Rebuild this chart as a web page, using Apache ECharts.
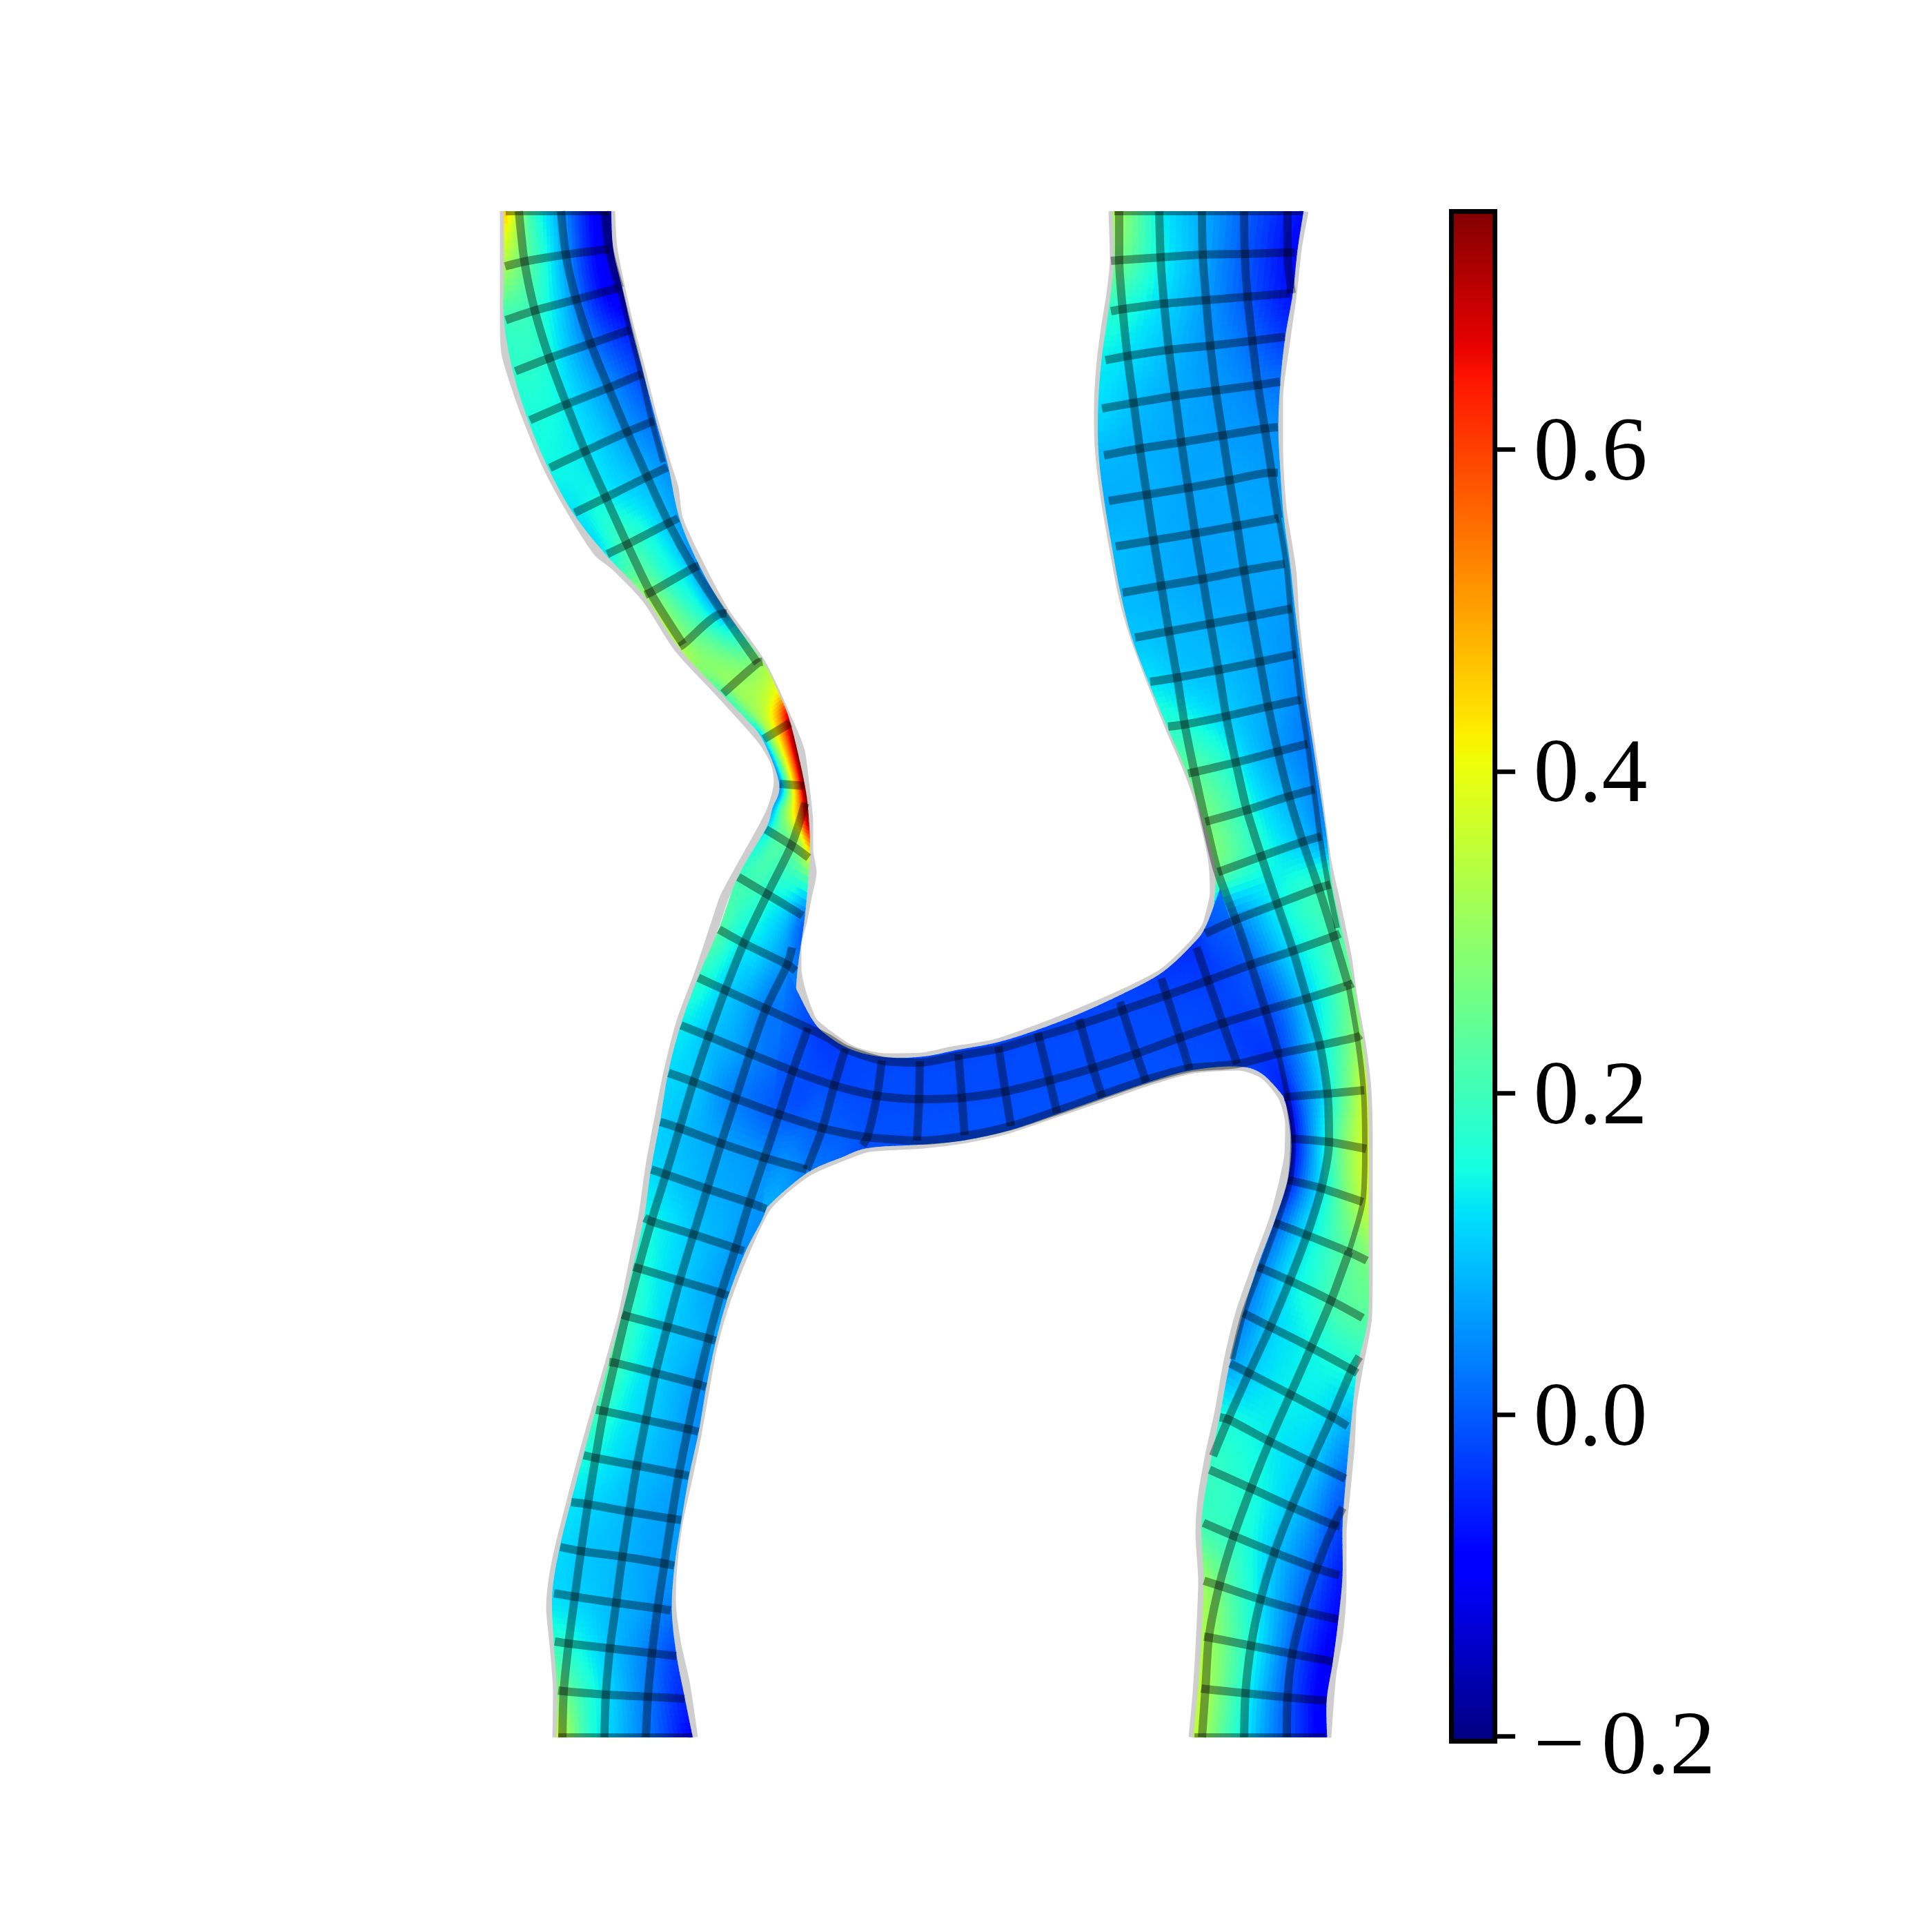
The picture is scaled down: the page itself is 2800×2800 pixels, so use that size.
<!DOCTYPE html>
<html>
<head>
<meta charset="utf-8">
<style>html,body{margin:0;padding:0;background:#fff}#c{width:2800px;height:2800px}</style>
<script src="https://cdn.jsdelivr.net/npm/echarts@6/dist/echarts.min.js"></script>
</head>
<body>
<div id="c"></div>
<script>
// Colour scale
const colorMin = -0.203, colorMax = 0.748;
const tickValues = [-0.2, 0, 0.2, 0.4, 0.6];

// Left vessel: cross-sections [xL,yL,xR,yR] and field values across each section
const leftEdges = [
[731,298,885,298],[731,386,888,361],[731,464,901,417],[744,538,915,478],[766,609,932,542],
[795,678,950,610],[831,743,968,677],[878,803,984,751],[935,864,1013,820],[985,939,1053,889],
[1047,1006,1105,959],[1080,1040,1128,1005],[1106,1072,1145,1048],[1130,1136,1166,1139],[1120,1172,1172,1193],[1110,1202,1173,1243],
[1070,1271,1166,1327],[1042,1347,1155,1407],[1012,1417,1150,1478],[987,1486,1140,1553],[969,1555,1129,1615],
[957,1626,1120,1690],[944,1695,1110,1752],[934,1765,1080,1813],[918,1836,1055,1878],[902,1905,1037,1943],
[883,1974,1023,2010],[864,2043,1012,2075],[846,2109,998,2139],[828,2177,987,2203],[812,2242,977,2269],
[801,2309,973,2334],[803,2379,980,2400],[808,2450,992,2462],[807,2526,1005,2526]];
const leftValues = [
[.48,.2,.08,-.05,-.15],[.32,.22,.1,-.04,-.13],[.2,.19,.1,-.04,-.12],[.18,.17,.09,0,-.06],[.16,.15,.1,.04,-.02],
[.15,.14,.11,.06,.02],[.13,.15,.12,.09,.05],[.14,.2,.17,.12,.07],[.3,.24,.17,.13,.05],[.33,.27,.22,.15,.08],
[.22,.3,.3,.29,.3],[.2,.3,.34,.38,.42],[.1,.3,.42,.55,.7],[.05,.2,.38,.55,.74],[.08,.24,.36,.5,.7],[.13,.22,.24,.28,.38],
[.2,.2,.16,.12,.03],[.22,.15,.12,.07,.03],[.18,.12,.08,.03,.03],[.14,.1,.07,.03,.01],[.12,.1,.05,.02,0],
[.11,.09,.07,.06,.05],[.12,.1,.08,.07,.05],[.15,.13,.1,.08,.05],[.18,.14,.11,.08,.06],[.2,.15,.11,.09,.07],
[.22,.15,.11,.08,.05],[.2,.14,.11,.08,.05],[.16,.13,.1,.08,.06],[.13,.11,.09,.07,.06],[.12,.1,.09,.07,.06],
[.12,.11,.09,.07,.03],[.18,.14,.09,.04,-.02],[.27,.17,.09,.02,-.05],[.38,.17,.08,0,-.09]];

// Right vessel
const rightEdges = [
[1613,298,1890,298],[1615,377,1880,361],[1607,451,1873,425],[1597,522,1862,488],[1592,592,1855,553],
[1593,660,1852,619],[1601,726,1855,685],[1612,792,1860,751],[1624,857,1869,817],[1641,924,1876,882],
[1665,988,1884,948],[1692,1053,1892,1014],[1721,1121,1902,1078],[1745,1191,1912,1144],[1762,1264,1922,1212],
[1760,1345,1930,1282],[1785,1405,1945,1353],[1810,1470,1961,1425],[1830,1530,1973,1500],[1861,1590,1981,1578],
[1872,1650,1983,1665],[1867,1710,1983,1742],[1847,1772,1983,1827],[1823,1836,1982,1910],[1802,1903,1967,1980],
[1783,1976,1957,2067],[1768,2054,1950,2143],[1753,2130,1945,2212],[1742,2207,1945,2283],[1745,2291,1939,2347],
[1742,2372,1931,2408],[1737,2447,1922,2465],[1729,2526,1923,2526]];
const rightValues = [
[.33,.14,.07,-.01,-.07],[.27,.15,.07,-.01,-.08],[.18,.13,.07,0,-.07],[.14,.11,.07,.03,-.03],[.12,.09,.07,.05,.02],
[.09,.08,.07,.06,.05],[.08,.08,.07,.07,.06],[.09,.08,.07,.07,.07],[.09,.08,.07,.07,.07],[.1,.09,.08,.07,.06],
[.13,.1,.09,.07,.05],[.18,.14,.1,.07,.04],[.24,.19,.11,.06,.03],[.27,.21,.13,.08,.04],[.25,.2,.15,.11,.06],
[0,.06,.13,.18,.2],[-.02,.03,.11,.17,.22],[-.03,0,.09,.17,.26],[-.05,0,.1,.2,.3],[-.08,.03,.13,.25,.37],
[-.08,.05,.18,.3,.38],[-.06,.06,.17,.28,.36],[0,.1,.17,.23,.27],[.03,.12,.17,.22,.23],[.04,.11,.14,.16,.17],
[.07,.12,.14,.13,.08],[.16,.15,.13,.1,.02],[.19,.17,.13,.07,-.02],[.2,.18,.11,.03,-.06],[.3,.2,.1,0,-.08],
[.33,.22,.1,-.02,-.1],[.35,.22,.09,-.02,-.1],[.35,.21,.08,-.02,-.1]];

// Connecting bridge
const bridgeEdges = [
[1142,1410,1104,1757],[1176,1477,1130,1731],[1201,1503,1173,1697],[1237,1523,1219,1677],[1284,1533,1259,1663],
[1337,1532,1337,1658],[1389,1522,1398,1652],[1447,1511,1465,1637],[1504,1493,1532,1614],[1564,1470,1597,1591],
[1623,1443,1661,1569],[1683,1411,1724,1551],[1728,1370,1793,1545],[1748,1343,1831,1557],[1768,1290,1870,1600]];
const bridgeValues = [
[.03,.015,0,.03,.08],[-.02,-.01,-.01,.04,.07],[-.03,-.02,0,.01,.03],[-.02,-.02,-.01,0,.01],[-.02,-.015,-.015,-.01,-.01],
[-.02,-.015,-.015,-.01,-.01],[-.02,-.015,-.015,-.01,-.01],[-.02,-.015,-.015,-.01,-.01],[-.02,-.015,-.015,-.01,-.01],[-.02,-.015,-.015,-.01,-.01],
[-.02,-.015,-.015,-.01,-.01],[-.03,-.02,-.015,-.015,-.01],[-.04,-.03,-.02,-.02,-.02],[-.01,-.02,-.02,-.03,-.03],[.02,0,-.01,-.03,-.06]];

// Boundary curves
const outlineLeftOuter = [[731,306],[731,397],[731,469],[733,511],[743,547],[763,604],[793,676],[830,744],[867,801],[890,819],[937,868],[983,939],[1043,1004],[1103,1071],[1123,1104],[1128,1132],[1120,1168],[1107,1196],[1067,1268],[1050,1300],[1040,1329],[1012,1413],[987,1480],[969,1550],[955,1620],[942,1690],[932,1760],[917,1834],[903,1903],[883,1976],[863,2045],[845,2109],[827,2178],[812,2237],[802,2286],[798,2330],[803,2384],[808,2453],[807,2518]];
const outlineInnerTop = [[885,306],[888,358],[900,419],[913,476],[930,540],[947,608],[967,676],[977,708],[983,751],[1010,811],[1050,886],[1103,961],[1143,1046],[1160,1089],[1167,1143],[1172,1193],[1172,1232],[1177,1264],[1170,1300],[1163,1336],[1155,1370],[1155,1403],[1176,1477],[1201,1500],[1237,1523],[1284,1533],[1337,1532],[1380,1523],[1440,1513],[1499,1493],[1558,1470],[1621,1443],[1685,1410],[1728,1370],[1748,1343],[1755,1319],[1760,1294],[1757,1244],[1740,1169],[1720,1112],[1697,1059],[1667,984],[1643,919],[1628,866],[1612,783],[1600,711],[1593,647],[1592,597],[1595,533],[1602,476],[1610,426],[1615,376],[1613,306]];
const outlineInnerBottom = [[1005,2518],[993,2438],[980,2379],[973,2320],[975,2271],[983,2207],[997,2143],[1010,2080],[1023,2006],[1033,1952],[1053,1883],[1080,1814],[1109,1753],[1130,1730],[1173,1697],[1219,1677],[1259,1663],[1337,1658],[1400,1650],[1459,1637],[1530,1613],[1598,1590],[1661,1568],[1724,1550],[1795,1545],[1831,1557],[1859,1590],[1869,1630],[1867,1680],[1847,1763],[1823,1829],[1797,1903],[1780,1972],[1767,2045],[1753,2109],[1742,2173],[1739,2222],[1743,2291],[1740,2369],[1735,2453],[1729,2518]];
const outlineRightOuter = [[1890,306],[1880,361],[1873,426],[1862,504],[1853,576],[1853,647],[1858,736],[1872,826],[1877,901],[1887,991],[1897,1062],[1910,1151],[1923,1248],[1937,1312],[1953,1390],[1961,1447],[1973,1513],[1981,1580],[1983,1663],[1983,1827],[1982,1908],[1970,1976],[1960,2035],[1957,2094],[1950,2168],[1945,2222],[1945,2296],[1940,2369],[1930,2428],[1923,2518]];

// Mesh lines running across the vessels
const crossLines = [
[[732,386],[760,379],[820,369],[883,361]],
[[733,464],[775,450],[835,434],[898,417]],
[[747,538],[796,519],[856,498],[913,478]],
[[768,609],[821,586],[882,562],[930,542]],
[[797,678],[848,654],[909,626],[948,610]],
[[833,743],[878,721],[938,691],[967,677]],
[[880,803],[909,789],[969,758],[983,751]],
[[935,862],[944,858],[1005,823],[1013,820]],
[[985,937],[990,934],[1048,889],[1053,889]],
[[1048,1005],[1098,961],[1105,959]],
[[1107,1071],[1145,1048]],
[[1130,1136],[1165,1139]],
[[1110,1202],[1147,1225],[1172,1243]],
[[1070,1271],[1112,1296],[1163,1327]],
[[1042,1347],[1078,1367],[1141,1398],[1153,1407]],
[[1012,1417],[1051,1435],[1110,1462],[1171,1490],[1201,1505],[1225,1520],[1278,1537],[1333,1540],[1389,1530],[1447,1520],[1504,1503],[1565,1485],[1627,1464],[1689,1443],[1751,1421],[1813,1398],[1874,1378],[1933,1357],[1942,1353]],
[[987,1486],[1027,1502],[1087,1527],[1149,1552],[1209,1573],[1271,1588],[1332,1593],[1394,1591],[1457,1582],[1521,1566],[1584,1548],[1647,1527],[1710,1504],[1772,1483],[1834,1464],[1894,1447],[1954,1428],[1961,1425]],
[[969,1555],[1005,1568],[1066,1592],[1129,1615],[1192,1635],[1257,1648],[1337,1653],[1400,1646],[1465,1632],[1532,1610],[1597,1587],[1661,1565],[1724,1548],[1793,1542],[1853,1527],[1913,1515],[1967,1503],[1972,1500]],
[[957,1626],[985,1635],[1045,1657],[1108,1678],[1169,1695]],
[[944,1695],[965,1702],[1025,1723],[1086,1743],[1110,1752]],
[[934,1765],[944,1770],[1005,1789],[1066,1809],[1078,1813]],
[[918,1836],[925,1838],[985,1856],[1045,1874],[1055,1878]],
[[902,1905],[907,1907],[967,1923],[1027,1940],[1037,1943]],
[[883,1974],[891,1975],[950,1990],[1011,2006],[1023,2010]],
[[864,2043],[875,2045],[936,2058],[997,2071],[1012,2075]],
[[846,2109],[863,2113],[923,2124],[984,2136],[998,2139]],
[[828,2177],[852,2180],[912,2191],[973,2201],[987,2203]],
[[812,2242],[842,2248],[902,2256],[963,2266],[977,2269]],
[[803,2309],[833,2314],[893,2323],[953,2331],[972,2334]],
[[804,2379],[824,2382],[884,2389],[945,2396],[980,2400]],
[[809,2450],[817,2451],[878,2456],[939,2459],[992,2462]],
[[1610,378],[1622,377],[1682,373],[1743,369],[1804,368],[1867,366],[1877,366]],
[[1610,451],[1627,448],[1687,440],[1748,435],[1808,430],[1870,425]],
[[1602,522],[1634,516],[1694,507],[1754,501],[1815,494],[1862,488]],
[[1597,592],[1643,584],[1703,574],[1762,566],[1823,558],[1855,553]],
[[1600,660],[1652,650],[1712,641],[1772,631],[1833,621],[1852,619]],
[[1607,726],[1662,717],[1722,707],[1782,696],[1843,685],[1852,685]],
[[1617,792],[1672,783],[1732,773],[1793,762],[1853,751]],
[[1627,859],[1683,849],[1743,839],[1803,827],[1862,817]],
[[1645,924],[1694,915],[1754,904],[1814,893],[1872,882]],
[[1667,988],[1706,982],[1766,971],[1826,959],[1878,948]],
[[1693,1053],[1717,1050],[1777,1038],[1838,1024],[1885,1014]],
[[1722,1121],[1731,1119],[1791,1105],[1852,1089],[1895,1078]],
[[1747,1191],[1807,1174],[1868,1154],[1905,1144]],
[[1765,1264],[1828,1241],[1888,1220],[1915,1212]],
[[1747,1353],[1791,1333],[1851,1310],[1911,1287],[1928,1282]],
[[1861,1590],[1924,1585],[1977,1580]],
[[1872,1650],[1926,1655],[1980,1665]],
[[1867,1710],[1915,1722],[1975,1742]],
[[1847,1772],[1894,1790],[1956,1815],[1981,1827]],
[[1823,1836],[1869,1856],[1929,1885],[1975,1910]],
[[1802,1903],[1841,1923],[1900,1953],[1959,1985],[1967,1990]],
[[1783,1976],[1810,1990],[1870,2021],[1930,2053],[1953,2067]],
[[1768,2054],[1780,2057],[1840,2089],[1900,2119],[1950,2143]],
[[1753,2130],[1813,2157],[1872,2184],[1933,2210],[1942,2212]],
[[1744,2207],[1788,2226],[1847,2250],[1908,2273],[1941,2283]],
[[1745,2291],[1767,2298],[1827,2318],[1888,2335],[1939,2347]],
[[1745,2372],[1752,2373],[1813,2385],[1873,2397],[1931,2408]],
[[1741,2447],[1747,2448],[1805,2454],[1866,2460],[1922,2465]]];

// Mesh lines running along the vessels
const alongLines = [
[[752,306],[760,379],[775,450],[796,519],[821,586],[848,654],[878,721],[909,789],[944,861],[990,934]],
[[813,306],[820,369],[835,434],[856,498],[882,562],[909,626],[938,691],[969,758],[1005,823],[1048,889],[1098,961]],
[[877,306],[883,361],[898,417]],
[[1167,1164],[1147,1225],[1112,1296],[1078,1367],[1051,1435],[1027,1502],[1005,1568],[985,1635],[965,1702],[944,1770],[925,1838],[907,1907],[891,1975],[875,2045],[863,2113],[852,2180],[842,2248],[833,2314],[824,2382],[817,2451],[815,2518]],
[[1148,1373],[1141,1398],[1110,1462],[1087,1527],[1066,1592],[1045,1657],[1025,1723],[1005,1789],[985,1856],[967,1923],[950,1990],[936,2058],[923,2124],[912,2191],[902,2256],[893,2323],[884,2389],[878,2456],[876,2518]],
[[1171,1490],[1149,1552],[1129,1615],[1108,1678],[1086,1743],[1066,1809],[1045,1874],[1027,1940],[1011,2006],[997,2071],[984,2136],[973,2201],[963,2266],[953,2331],[945,2396],[939,2459],[936,2518]],
[[1225,1520],[1209,1573],[1192,1635],[1169,1695]],
[[1278,1537],[1271,1588],[1257,1648],[1250,1660]],
[[1333,1538],[1332,1593],[1329,1653]],
[[1389,1528],[1394,1591],[1398,1645]],
[[1447,1517],[1457,1582],[1465,1632]],
[[1504,1497],[1521,1566],[1532,1613]],
[[1564,1477],[1584,1548],[1597,1590]],
[[1623,1452],[1647,1527],[1661,1568]],
[[1683,1418],[1710,1504],[1724,1550]],
[[1734,1373],[1772,1483],[1793,1542]],
[[1622,306],[1622,377],[1627,448],[1634,516],[1643,584],[1652,650],[1662,717],[1672,783],[1683,849],[1694,915],[1706,982],[1717,1050],[1731,1119],[1747,1191],[1765,1264],[1791,1333],[1813,1398],[1834,1464],[1853,1527]],
[[1680,306],[1682,373],[1687,440],[1694,507],[1703,574],[1712,641],[1722,707],[1732,773],[1743,838],[1754,904],[1766,971],[1777,1038],[1791,1105],[1807,1174],[1828,1241],[1851,1310],[1874,1378],[1894,1447],[1913,1515],[1924,1585],[1926,1655],[1915,1722],[1894,1790],[1869,1856],[1841,1923],[1810,1990],[1780,2057],[1758,2110]],
[[1742,306],[1743,369],[1748,435],[1754,501],[1762,566],[1772,631],[1782,696],[1793,762],[1803,827],[1814,893],[1826,959],[1838,1024],[1852,1089],[1868,1154],[1888,1220],[1911,1287],[1933,1357],[1954,1428]],
[[1955,1814],[1929,1885],[1900,1953],[1870,2021],[1840,2089],[1813,2157],[1788,2226],[1767,2298],[1752,2373],[1747,2448],[1742,2518]],
[[1803,306],[1804,368],[1808,430],[1815,494],[1823,558],[1833,621],[1843,685],[1853,751]],
[[1866,306],[1866,366],[1872,425]],
[[1803,2518],[1805,2454],[1813,2385],[1827,2318],[1847,2250],[1872,2184],[1900,2119],[1930,2053],[1959,1985],[1970,1966]],
[[1865,2518],[1866,2460],[1873,2397],[1888,2335],[1908,2273],[1933,2210],[1946,2185]]];

// Parts of mesh lines that run along the boundary and are cut by it
const edgeLines = [
[[898,417],[911,470],[926,530],[942,600],[961,670]],
[[1853,1527],[1866,1590],[1874,1650],[1870,1710],[1851,1772],[1828,1836],[1803,1903],[1786,1970]],
[[1954,1428],[1967,1503],[1976,1580],[1978,1665],[1975,1742],[1955,1814]],
[[1853,751],[1864,817],[1870,882],[1877,948],[1885,1014],[1895,1078],[1904,1144],[1913,1212],[1925,1282],[1938,1345]]];

// Mesh lines cut by the top and bottom of the plot
const capLines = [
[[733,309],[883,309]],[[1615,309],[1888,309]],
[[809,2515],[1003,2515]],[[1731,2515],[1921,2515]]];

// ---- rendering helpers ----
function lerp(a,b,t){return a+(b-a)*t;}
function jetChannel(pts,t){
  for(let i=1;i<pts.length;i++){ if(t<=pts[i][0]) return lerp(pts[i-1][1],pts[i][1],(t-pts[i-1][0])/(pts[i][0]-pts[i-1][0])); }
  return pts[pts.length-1][1];
}
const jetR=[[0,0],[.35,0],[.66,1],[.89,1],[1,.5]];
const jetG=[[0,0],[.125,0],[.375,1],[.64,1],[.91,0],[1,0]];
const jetB=[[0,.5],[.11,1],[.34,1],[.65,0],[1,0]];
function jet(t){
  t=Math.max(0,Math.min(1,t));
  return 'rgb('+Math.round(255*jetChannel(jetR,t))+','+Math.round(255*jetChannel(jetG,t))+','+Math.round(255*jetChannel(jetB,t))+')';
}
function valueColor(v){return jet((v-colorMin)/(colorMax-colorMin));}
function cr(p0,p1,p2,p3,t){
  const t2=t*t,t3=t2*t;
  return .5*(2*p1+(p2-p0)*t+(2*p0-5*p1+4*p2-p3)*t2+(3*p1-p0-3*p2+p3)*t3);
}
function fieldSeries(edges,values,z){
  const nV=8,nU=30;
  const n=edges.length;
  function sample(i,t){
    const a=edges[Math.max(i-1,0)],b=edges[i],c=edges[i+1],d=edges[Math.min(i+2,n-1)];
    const va=values[Math.max(i-1,0)],vb=values[i],vc=values[i+1],vd=values[Math.min(i+2,n-1)];
    const e=[0,1,2,3].map(k=>cr(a[k],b[k],c[k],d[k],t));
    const v=[0,1,2,3,4].map(k=>cr(va[k],vb[k],vc[k],vd[k],t));
    return {e,v};
  }
  function acrossValue(v,u){
    const s=u*4,k=Math.min(3,Math.floor(s));
    const p0=v[Math.max(k-1,0)],p1=v[k],p2=v[k+1],p3=v[Math.min(k+2,4)];
    return cr(p0,p1,p2,p3,s-k);
  }
  return {
    type:'custom',xAxisIndex:0,yAxisIndex:0,z:z,silent:true,clip:true,animation:false,progressive:0,
    data:edges.slice(0,n-1).map((_,i)=>[i]),
    renderItem:function(params,api){
      const i=params.dataIndex,children=[];
      for(let a=0;a<nV;a++){
        const s0=sample(i,a/nV),s1=sample(i,(a+1)/nV);
        for(let b=0;b<nU;b++){
          const u0=b/nU,u1=(b+1)/nU;
          const pt=(s,u)=>api.coord([lerp(s.e[0],s.e[2],u),lerp(s.e[1],s.e[3],u)]);
          const v=.5*(acrossValue(s0.v,(u0+u1)/2)+acrossValue(s1.v,(u0+u1)/2));
          const col=valueColor(v);
          children.push({type:'polygon',shape:{points:[pt(s0,u0),pt(s0,u1),pt(s1,u1),pt(s1,u0)]},
            style:{fill:col,stroke:col,lineWidth:1.2}});
        }
      }
      return {type:'group',children:children};
    }
  };
}
function lineSeries(points,color,width,z){
  return {type:'line',xAxisIndex:0,yAxisIndex:0,data:points,showSymbol:false,symbol:'none',smooth:.25,clip:true,silent:true,z:z,
    animation:false,lineStyle:{color:color,width:width,cap:'butt',join:'round'}};
}
const chart=echarts.init(document.getElementById('c'),null,{renderer:'canvas',width:2800,height:2800});
const series=[];
[outlineLeftOuter,outlineInnerTop,outlineInnerBottom,outlineRightOuter].forEach(l=>series.push(lineSeries(l,'#cecece',13,0)));
series.push(fieldSeries(leftEdges,leftValues,1),fieldSeries(rightEdges,rightValues,1),fieldSeries(bridgeEdges,bridgeValues,2));
crossLines.concat(alongLines).forEach(l=>series.push(lineSeries(l,'rgba(0,0,0,0.38)',12,3)));
edgeLines.forEach(l=>series.push(lineSeries(l,'rgba(0,0,0,0.38)',8,3)));
capLines.forEach(l=>series.push(lineSeries(l,'rgba(0,0,0,0.38)',6,3)));
series.push({
  type:'custom',xAxisIndex:1,yAxisIndex:1,silent:true,clip:false,z:5,animation:false,
  data:[[0,colorMin,1,colorMax]],
  renderItem:function(params,api){
    const p0=api.coord([api.value(0),api.value(3)]),p1=api.coord([api.value(2),api.value(1)]);
    const stops=[];
    for(let k=0;k<=128;k++){stops.push({offset:k/128,color:jet(1-k/128)});}
    return {type:'rect',shape:{x:p0[0],y:p0[1],width:p1[0]-p0[0],height:p1[1]-p0[1]},
      style:{fill:new echarts.graphic.LinearGradient(0,0,0,1,stops),stroke:'#000',lineWidth:7}};
  }
});
const labelFont={fontFamily:'Liberation Serif',fontSize:132,color:'#000'};
chart.setOption({
  animation:false,
  backgroundColor:'#fff',
  grid:[
    {left:0,top:306,width:2800,height:2212,containLabel:false},
    {left:2103.5,top:306.5,width:63,height:2217,containLabel:false}
  ],
  xAxis:[
    {type:'value',gridIndex:0,min:0,max:2800,show:false},
    {type:'value',gridIndex:1,min:0,max:1,show:false}
  ],
  yAxis:[
    {type:'value',gridIndex:0,min:306,max:2518,inverse:true,show:false},
    {type:'value',gridIndex:1,min:colorMin,max:colorMax,position:'right',z:6,
     splitLine:{show:false},axisLine:{show:false,onZero:false},
     axisTick:{show:true,inside:false,length:29.5,customValues:tickValues,lineStyle:{color:'#000',width:6.5}},
     axisLabel:Object.assign({show:true,customValues:tickValues,margin:56,showMinLabel:true,showMaxLabel:true,
       formatter:function(v){
         return v<0?'{m|\u2212}{n|'+Math.abs(v).toFixed(1)+'}':'{p|'+v.toFixed(1)+'}';
       },
       rich:{
         p:Object.assign({padding:[18,0,0,0]},labelFont),
         m:Object.assign({padding:[38,24,0,0]},labelFont),
         n:Object.assign({padding:[38,0,0,0]},labelFont)
       }},labelFont)}
  ],
  series:series
});
</script>
</body>
</html>
